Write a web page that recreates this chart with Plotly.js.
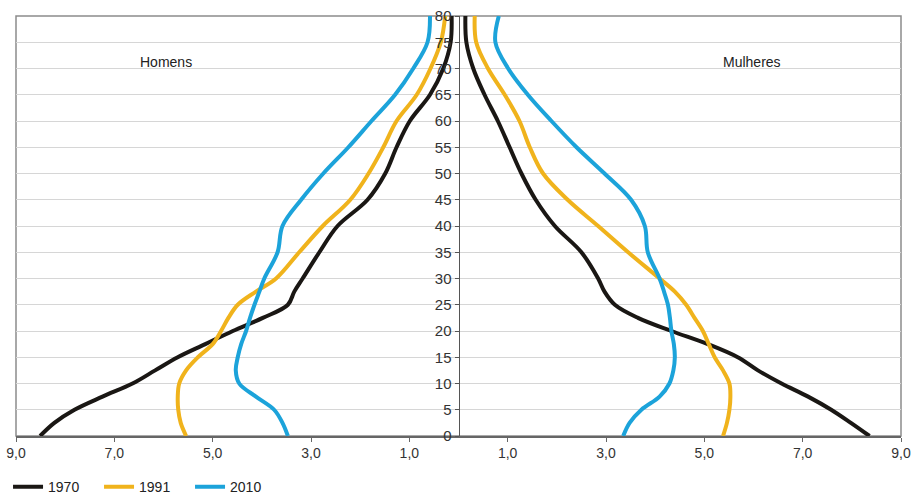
<!DOCTYPE html>
<html>
<head>
<meta charset="utf-8">
<script src="https://cdn.plot.ly/plotly-3.0.1.min.js"></script>
<style>html,body{margin:0;padding:0;background:#fff;}#chart{width:914px;height:494px;}</style>
</head>
<body>
<div id="chart"></div>
<script>
// Ages (vertical axis)
const ages = [0, 2.5, 5, 7.5, 10, 12.5, 15, 17.5, 20, 22.5, 25, 27.5, 30, 35, 40, 45, 50, 55, 60, 65, 70, 75, 80];

// Homens (left side), percentages
const homens1970 = [8.51, 8.22, 7.81, 7.24, 6.63, 6.17, 5.71, 5.15, 4.59, 3.98, 3.47, 3.34, 3.17, 2.83, 2.46, 1.85, 1.49, 1.26, 0.99, 0.58, 0.31, 0.16, 0.14];
const homens1991 = [5.54, 5.65, 5.70, 5.71, 5.68, 5.54, 5.30, 5.00, 4.83, 4.68, 4.49, 4.12, 3.71, 3.24, 2.76, 2.20, 1.83, 1.53, 1.26, 0.85, 0.57, 0.36, 0.27];
const homens2010 = [3.47, 3.58, 3.75, 4.12, 4.46, 4.53, 4.49, 4.42, 4.32, 4.24, 4.15, 4.05, 3.95, 3.68, 3.58, 3.20, 2.75, 2.24, 1.77, 1.29, 0.92, 0.63, 0.58];

// Mulheres (right side), percentages
const mulheres1970 = [8.36, 7.98, 7.58, 7.11, 6.57, 6.09, 5.68, 5.07, 4.33, 3.65, 3.18, 2.97, 2.84, 2.50, 1.96, 1.57, 1.28, 1.04, 0.80, 0.53, 0.30, 0.16, 0.14];
const mulheres1991 = [5.38, 5.46, 5.51, 5.53, 5.51, 5.38, 5.21, 5.09, 4.97, 4.80, 4.63, 4.40, 4.09, 3.45, 2.84, 2.22, 1.72, 1.45, 1.24, 0.94, 0.60, 0.36, 0.33];
const mulheres2010 = [3.35, 3.48, 3.72, 4.09, 4.29, 4.37, 4.40, 4.38, 4.33, 4.30, 4.26, 4.18, 4.09, 3.85, 3.79, 3.51, 2.97, 2.40, 1.89, 1.41, 1.01, 0.75, 0.82];

const years = ['1970', '1991', '2010'];
const colors = ['#1a1714', '#f0b31c', '#1ca3da'];
const xTickVals = [-9, -7, -5, -3, -1, 1, 3, 5, 7, 9];
const xTickText = ['9,0', '7,0', '5,0', '3,0', '1,0', '1,0', '3,0', '5,0', '7,0', '9,0'];
const yTickVals = [0, 5, 10, 15, 20, 25, 30, 35, 40, 45, 50, 55, 60, 65, 70, 75, 80];
const sideLabels = ['Homens', 'Mulheres'];

const left = [homens1970, homens1991, homens2010];
const right = [mulheres1970, mulheres1991, mulheres2010];

const FONT = 'Arial, "Liberation Sans", sans-serif';
const traces = [];
years.forEach((yr, i) => {
  traces.push({
    x: left[i].map(v => -v), y: ages, type: 'scatter', mode: 'lines',
    line: {color: colors[i], width: 4, shape: 'spline', smoothing: 1},
    name: yr, legendgroup: yr, showlegend: false, hoverinfo: 'skip'
  });
  traces.push({
    x: right[i], y: ages, type: 'scatter', mode: 'lines',
    line: {color: colors[i], width: 4, shape: 'spline', smoothing: 1},
    name: yr, legendgroup: yr, showlegend: true, hoverinfo: 'skip'
  });
});

const layout = {
  width: 914, height: 494,
  margin: {l: 16, r: 13, t: 16, b: 58, autoexpand: false},
  paper_bgcolor: '#fff', plot_bgcolor: '#fff',
  font: {family: FONT, size: 14, color: '#333'},
  showlegend: true,
  legend: {orientation: 'h', x: -0.009, xanchor: 'left', y: -0.122, yanchor: 'middle',
           font: {size: 14, color: '#222'}, entrywidth: 46, entrywidthmode: 'pixels',
           itemwidth: 30, tracegroupgap: 0},
  xaxis: {
    range: [-9, 9], tickvals: xTickVals, ticktext: xTickText,
    showgrid: false, zeroline: false, showline: true, linecolor: '#666', linewidth: 1.5,
    ticks: 'outside', ticklen: 4, tickcolor: '#666', automargin: false,
    tickfont: {size: 14, color: '#333'}, fixedrange: true
  },
  yaxis: {
    range: [0, 80], tickvals: yTickVals, anchor: 'free', position: 0.5, automargin: false,
    showgrid: true, gridcolor: '#d6d6d6', gridwidth: 1, zeroline: false,
    showline: true, linecolor: '#555', linewidth: 1,
    ticks: 'outside', ticklen: 4, tickcolor: '#555',
    tickfont: {size: 15, color: '#333'}, fixedrange: true
  },
  shapes: [{type: 'rect', xref: 'paper', yref: 'paper', x0: 0, x1: 1, y0: 0, y1: 1,
            line: {color: '#8c8c8c', width: 1.5}, layer: 'below'}],
  annotations: [
    {x: -5.95, y: 71.3, xref: 'x', yref: 'y', text: sideLabels[0], showarrow: false, font: {size: 14, color: '#222'}},
    {x: 5.97, y: 71.3, xref: 'x', yref: 'y', text: sideLabels[1], showarrow: false, font: {size: 14, color: '#222'}}
  ]
};

Plotly.newPlot('chart', traces, layout, {displayModeBar: false, staticPlot: true});
</script>
</body>
</html>
